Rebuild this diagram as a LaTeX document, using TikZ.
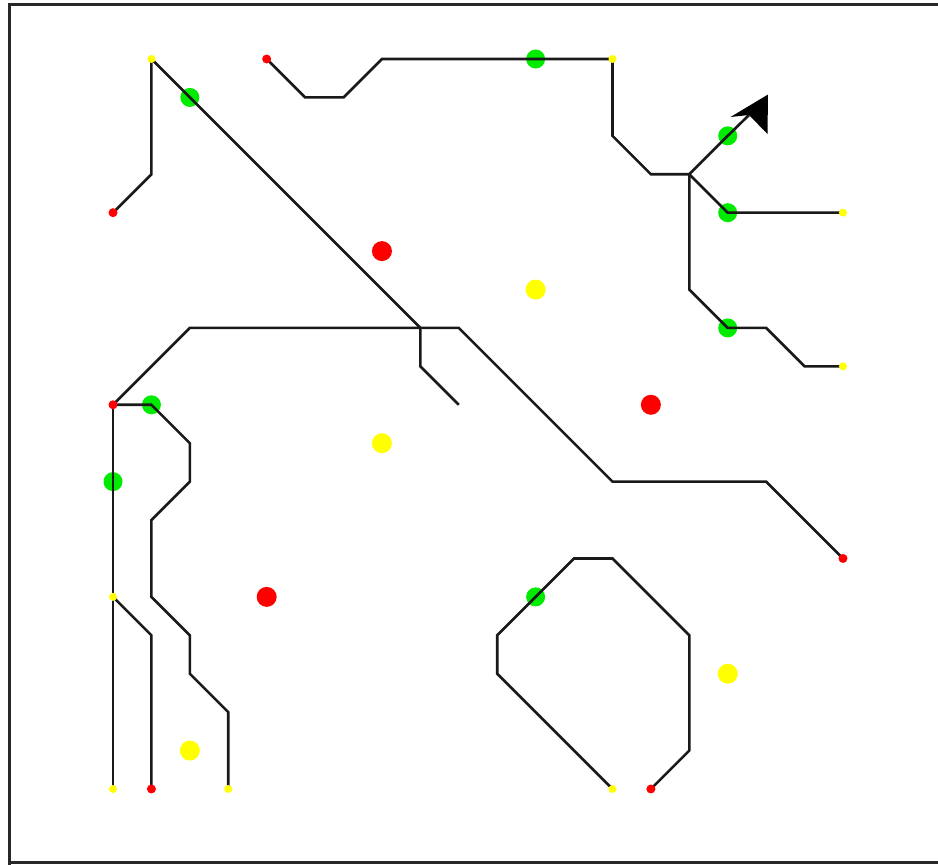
\documentclass[tikz,border=0pt]{standalone}
\definecolor{dotgreen}{RGB}{0,235,0}
\definecolor{dotred}{RGB}{255,0,0}
\definecolor{dotyellow}{RGB}{255,255,0}
\definecolor{wire}{RGB}{25,25,25}
\definecolor{framegray}{RGB}{40,40,40}
\tikzset{
  wirepath/.style={draw=wire, line width=2.6pt, line join=miter},
  bigdot/.style={circle, inner sep=0pt, minimum size=20pt, draw=none},
  greendot/.style={circle, inner sep=0pt, minimum size=19pt, fill=dotgreen, draw=none},
  redtip/.style={circle, inner sep=0pt, minimum size=9pt, fill=dotred, draw=none},
  yellowtip/.style={circle, inner sep=0pt, minimum size=8pt, fill=dotyellow, draw=none},
  frameline/.style={draw=framegray, line width=2.6pt}
}
\begin{document}
\begin{tikzpicture}[x=1pt,y=-1pt]
\useasboundingbox (0,0) rectangle (938,865);
% frame
\coordinate (fa) at (9.5,865);
\coordinate (fb) at (9.5,4.5);
\coordinate (fc) at (940,4.5);
\coordinate (fd) at (940,862.5);
\coordinate (fe) at (9.5,862.5);
\draw[frameline] (fa) -- (fb) -- (fc);
\draw[frameline] (fe) -- (fd);
% grid coordinates
\foreach \c in {0,...,19}{
  \foreach \r in {0,...,19}{
    \coordinate (g\c-\r) at ({113+38.42*\c},{59+38.42*\r});
  }
}
% loose dots
\node[bigdot, fill=dotred] (r1) at (g7-5) {};
\node[bigdot, fill=dotyellow] (y1) at (g11-6) {};
\node[bigdot, fill=dotred] (r2) at (g14-9) {};
\node[bigdot, fill=dotyellow] (y2) at (g7-10) {};
\node[bigdot, fill=dotred] (r3) at (g4-14) {};
\node[bigdot, fill=dotyellow] (y3) at (g2-18) {};
\node[bigdot, fill=dotyellow] (y4) at (g16-16) {};
% green dots
\node[greendot] (n1) at (g2-1) {};
\node[greendot] (n2) at (g11-0) {};
\node[greendot] (n3) at (g16-2) {};
\node[greendot] (n4) at (g16-4) {};
\node[greendot] (n5) at (g16-7) {};
\node[greendot] (n6) at (g1-9) {};
\node[greendot] (n7) at (g0-11) {};
\node[greendot] (n8) at (g11-14) {};
% arrow head coordinates
\coordinate (atip) at (768,94.5);
\coordinate (abot) at (767.5,134);
\coordinate (anotch) at (749,115);
\coordinate (aleft) at (730.5,117);
% wires
\draw[wirepath] (g0-4) -- (g1-3) -- (g1-0) -- (g8-7);
\draw[wirepath] (g9-9) -- (g8-8) -- (g8-7);
\draw[wirepath] (g0-9) -- (g2-7) -- (g9-7) -- (g13-11) -- (g17-11) -- (g19-13);
\draw[wirepath] (g0-9) -- (g1-9) -- (g2-10) -- (g2-11) -- (g1-12) -- (g1-14) -- (g2-15) -- (g2-16) -- (g3-17) -- (g3-19);
\draw[wirepath] (g0-9) -- (g0-19);
\draw[wirepath] (g0-14) -- (g1-15) -- (g1-19);
\draw[wirepath] (g4-0) -- (g5-1) -- (g6-1) -- (g7-0) -- (g13-0) -- (g13-2) -- (g14-3) -- (g15-3) -- (g16-2) -- (anotch);
\draw[wirepath] (g15-3) -- (g16-4) -- (g19-4);
\draw[wirepath] (g15-3) -- (g15-6) -- (g16-7) -- (g17-7) -- (g18-8) -- (g19-8);
\draw[wirepath] (g13-19) -- (g10-16) -- (g10-15) -- (g12-13) -- (g13-13) -- (g15-15) -- (g15-18) -- (g14-19);
% arrow head
\fill[black] (atip) -- (abot) -- (anotch) -- (aleft) -- cycle;
% end markers
\node[redtip] (e1) at (g0-4) {};
\node[redtip] (e2) at (g4-0) {};
\node[redtip] (e3) at (g0-9) {};
\node[redtip] (e4) at (g19-13) {};
\node[redtip] (e5) at (g1-19) {};
\node[redtip] (e6) at (g14-19) {};
\node[yellowtip] (t1) at (g1-0) {};
\node[yellowtip] (t2) at (g13-0) {};
\node[yellowtip] (t3) at (g19-4) {};
\node[yellowtip] (t4) at (g19-8) {};
\node[yellowtip] (t5) at (g0-14) {};
\node[yellowtip] (t6) at (g0-19) {};
\node[yellowtip] (t7) at (g3-19) {};
\node[yellowtip] (t8) at (g13-19) {};
\end{tikzpicture}
\end{document}
